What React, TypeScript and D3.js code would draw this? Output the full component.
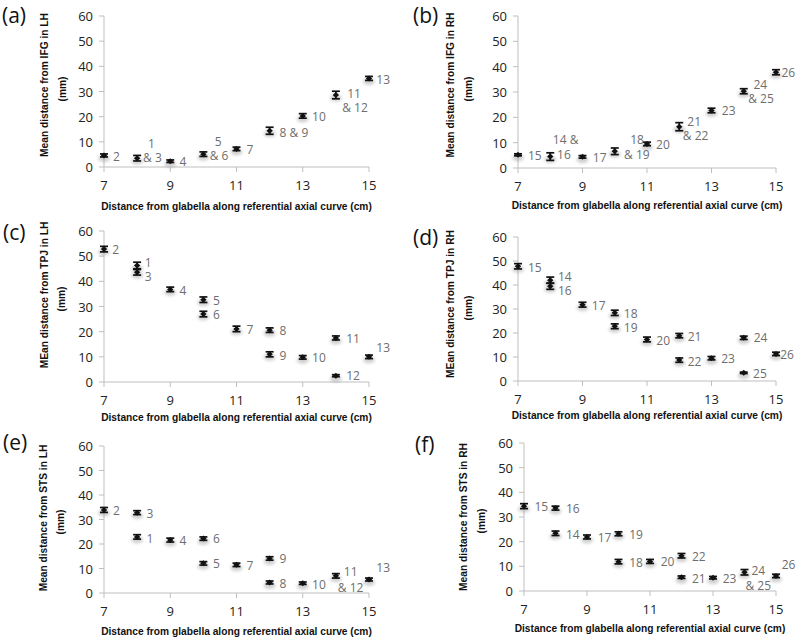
import * as d3 from 'd3';

// axis ticks shared by all panels
const xTicks = [7, 9, 11, 13, 15];
const yTicks = [0, 10, 20, 30, 40, 50, 60];

// (a) IFG, left hemisphere
const ifgLhX = [7, 8, 9, 10, 11, 12, 13, 14, 15];
const ifgLhY = [4.6, 3.5, 2.3, 5.1, 7.2, 14.4, 20.3, 28.6, 35.2];
const ifgLhErr = [0.6, 1.1, 0.5, 0.9, 0.7, 1.4, 0.9, 1.5, 0.8];
const ifgLhLabels: [string, number, number][] = [
  ['2', 7.27, 4.2], ['1', 8.33, 9.5], ['& 3', 8.18, 3.8], ['4', 9.28, 2.2],
  ['5', 10.34, 10.2], ['& 6', 10.19, 4.5], ['7', 11.3, 6.9], ['8 & 9', 12.3, 13.7],
  ['10', 13.28, 20], ['11', 14.34, 29.3], ['& 12', 14.19, 23.6], ['13', 15.22, 34.9],
];

// (b) IFG, right hemisphere
const ifgRhX = [7, 8, 9, 10, 11, 12, 13, 14, 15];
const ifgRhY = [5.2, 4.5, 4.4, 6.6, 9.5, 16.3, 22.7, 30.3, 37.8];
const ifgRhErr = [0.4, 1.5, 0.5, 1.3, 0.7, 1.6, 0.9, 1.0, 1.0];
const ifgRhLabels: [string, number, number][] = [
  ['15', 7.31, 5.0], ['14 &', 8.08, 11.2], ['16', 8.21, 5.3], ['17', 9.32, 4.1],
  ['18', 10.48, 11.2], ['& 19', 10.29, 5.4], ['20', 11.28, 9.4], ['21', 12.25, 18.2],
  ['& 22', 12.11, 12.7], ['23', 13.32, 22.6], ['24', 14.3, 33.1], ['& 25', 14.14, 27.4],
  ['26', 15.17, 37.6],
];

// (c) TPJ, left hemisphere
const tpjLhX = [7, 8, 8, 9, 10, 10, 11, 12, 12, 13, 14, 14, 15];
const tpjLhY = [52.8, 46.3, 43.6, 36.8, 32.7, 27.0, 21.1, 20.6, 11.0, 9.8, 17.5, 2.5, 10.0];
const tpjLhErr = [1.1, 1.3, 1.1, 0.9, 1.1, 1.1, 1.1, 0.9, 1.0, 0.7, 0.8, 0.4, 0.7];
const tpjLhLabels: [string, number, number][] = [
  ['2', 7.25, 52.6], ['1', 8.23, 47.3], ['3', 8.23, 42], ['4', 9.28, 36.4],
  ['5', 10.29, 32.5], ['6', 10.29, 26.9], ['7', 11.3, 20.9], ['8', 12.3, 20.5],
  ['9', 12.3, 10.6], ['10', 13.28, 9.7], ['11', 14.31, 17.2], ['12', 14.31, 2.4],
  ['13', 15.22, 13.9],
];

// (d) TPJ, right hemisphere
const tpjRhX = [7, 8, 8, 9, 10, 10, 11, 12, 12, 13, 14, 14, 15];
const tpjRhY = [47.8, 42.0, 39.5, 31.8, 28.4, 22.8, 17.3, 18.9, 8.7, 9.5, 18.0, 3.4, 11.3];
const tpjRhErr = [1.1, 1.3, 1.3, 1.0, 1.1, 1.0, 1.0, 0.9, 0.9, 0.7, 0.7, 0.3, 0.7];
const tpjRhLabels: [string, number, number][] = [
  ['15', 7.31, 47.1], ['14', 8.24, 43.6], ['16', 8.24, 37.8], ['17', 9.29, 31.3],
  ['18', 10.28, 28], ['19', 10.28, 22.2], ['20', 11.29, 17], ['21', 12.26, 18.7],
  ['22', 12.26, 8.3], ['23', 13.3, 9.3], ['24', 14.31, 18], ['25', 14.29, 3.2],
  ['26', 15.13, 11.1],
];

// (e) STS, left hemisphere
const stsLhX = [7, 8, 8, 9, 10, 10, 11, 12, 12, 13, 14, 15];
const stsLhY = [33.9, 32.8, 22.9, 21.6, 22.2, 12.1, 11.5, 14.1, 4.3, 4.0, 7.0, 5.5];
const stsLhErr = [1.0, 0.8, 0.9, 0.8, 0.7, 0.7, 0.7, 0.7, 0.6, 0.5, 0.9, 0.6];
const stsLhLabels: [string, number, number][] = [
  ['2', 7.27, 33.7], ['3', 8.28, 32.4], ['1', 8.28, 22.4], ['4', 9.28, 21.5],
  ['6', 10.29, 22.2], ['5', 10.29, 12], ['7', 11.3, 11.3], ['9', 12.3, 14],
  ['8', 12.3, 3.8], ['10', 13.28, 3.5], ['11', 14.24, 8.6], ['& 12', 14.06, 2.4],
  ['13', 15.22, 10.6],
];

// (f) STS, right hemisphere
const stsRhX = [7, 8, 8, 9, 10, 10, 11, 12, 12, 13, 14, 15];
const stsRhY = [34.4, 33.6, 23.4, 21.9, 23.2, 11.9, 12.0, 14.3, 5.6, 5.4, 7.6, 6.1];
const stsRhErr = [1.0, 0.8, 0.9, 0.8, 0.8, 0.9, 0.8, 0.9, 0.5, 0.5, 1.1, 0.7];
const stsRhLabels: [string, number, number][] = [
  ['15', 7.33, 34.3], ['16', 8.33, 33.3], ['14', 8.33, 23], ['17', 9.34, 21.7],
  ['19', 10.34, 22.8], ['18', 10.34, 11.7], ['20', 11.34, 11.9], ['22', 12.33, 14],
  ['21', 12.33, 4.9], ['23', 13.31, 4.9], ['24', 14.22, 8.3], ['& 25', 14.03, 2.4],
  ['26', 15.18, 10.6],
];

const xTitle = 'Distance from glabella along referential axial curve (cm)';
const FONT = '"Open Sans", "Liberation Sans", sans-serif';
const TITLE_FONT = '"Liberation Sans", Arial, sans-serif';

interface PanelProps {
  tag: string; tagX: number; tagY: number;
  x0: number; x1: number; yTop: number; yBot: number;
  yTitle: string; yTitleX: number; mmX: number; yTitleCy: number;
  xTitleY: number;
  xs: number[]; ys: number[]; errs: number[];
  labels: [string, number, number][];
}

function Panel(p: PanelProps) {
  const sx = d3.scaleLinear().domain([7, 15]).range([p.x0, p.x1]);
  const sy = d3.scaleLinear().domain([0, 60]).range([p.yBot, p.yTop]);
  const axis = '#bfbfbf';
  return (
    <g>
      <text x={p.tagX} y={p.tagY} fontSize={21} fill="#111" fontFamily={FONT}>{p.tag}</text>
      {/* axes */}
      <line x1={p.x0} x2={p.x0} y1={p.yTop} y2={p.yBot} stroke={axis} />
      <line x1={p.x0} x2={p.x1} y1={p.yBot} y2={p.yBot} stroke={axis} />
      {yTicks.map(t => (
        <g key={'y' + t}>
          <line x1={p.x0 - 5} x2={p.x0} y1={sy(t)} y2={sy(t)} stroke={axis} />
          <text x={p.x0 - 11} y={sy(t)} textAnchor="end" dominantBaseline="central"
            fontSize={13} fill="#222" fontFamily={FONT}>{t}</text>
        </g>
      ))}
      {xTicks.map(t => (
        <g key={'x' + t}>
          <line x1={sx(t)} x2={sx(t)} y1={p.yBot} y2={p.yBot + 5} stroke={axis} />
          <text x={sx(t)} y={p.yBot + 18} textAnchor="middle" dominantBaseline="central"
            fontSize={13} fill="#222" fontFamily={FONT}>{t}</text>
        </g>
      ))}
      {/* titles */}
      <text x={(p.x0 + p.x1) / 2} y={p.xTitleY} textAnchor="middle" dominantBaseline="central"
        fontSize={10.2} fontWeight="bold" fill="#111" fontFamily={TITLE_FONT}>{xTitle}</text>
      <text transform={`translate(${p.yTitleX},${p.yTitleCy}) rotate(-90)`} textAnchor="middle"
        dominantBaseline="central" fontSize={10.2} fontWeight="bold" fill="#111" fontFamily={TITLE_FONT}>{p.yTitle}</text>
      <text transform={`translate(${p.mmX},${p.yTitleCy + 4}) rotate(-90)`} textAnchor="middle"
        dominantBaseline="central" fontSize={10.2} fontWeight="bold" fill="#111" fontFamily={TITLE_FONT}>(mm)</text>
      {/* points with error bars */}
      {p.xs.map((x, i) => {
        const cx = sx(x);
        const cy = sy(p.ys[i]);
        const yh = sy(p.ys[i] + p.errs[i]);
        const yl = sy(p.ys[i] - p.errs[i]);
        return (
          <g key={'p' + i}>
            <ellipse cx={cx} cy={cy + 3} rx={6} ry={3.5} fill="#9a9a9a" opacity={0.45} filter="url(#soft)" />
            <line x1={cx} x2={cx} y1={yh} y2={yl} stroke="#111" strokeWidth={1.7} />
            <line x1={cx - 4} x2={cx + 4} y1={yh} y2={yh} stroke="#111" strokeWidth={1.7} />
            <line x1={cx - 4} x2={cx + 4} y1={yl} y2={yl} stroke="#111" strokeWidth={1.7} />
            <path d={`M${cx},${cy - 3}L${cx + 3.2},${cy}L${cx},${cy + 3}L${cx - 3.2},${cy}Z`} fill="#111" />
          </g>
        );
      })}
      {p.labels.map(([t, lx, ly], i) => (
        <text key={'l' + i} x={sx(lx)} y={sy(ly)} dominantBaseline="central"
          fontSize={12} fill="#6e6e6e" fontFamily={FONT}>{t}</text>
      ))}
    </g>
  );
}

const panels: PanelProps[] = [
  { tag: '(a)', tagX: 2, tagY: 23, x0: 104, x1: 369, yTop: 16, yBot: 167,
    yTitle: 'Mean distance from IFG in LH', yTitleX: 44, mmX: 62, yTitleCy: 85,
    xTitleY: 206, xs: ifgLhX, ys: ifgLhY, errs: ifgLhErr, labels: ifgLhLabels },
  { tag: '(b)', tagX: 413, tagY: 23, x0: 518, x1: 776, yTop: 16, yBot: 168,
    yTitle: 'Mean distance from IFG in RH', yTitleX: 450, mmX: 468, yTitleCy: 85,
    xTitleY: 205, xs: ifgRhX, ys: ifgRhY, errs: ifgRhErr, labels: ifgRhLabels },
  { tag: '(c)', tagX: 3, tagY: 240, x0: 104, x1: 369, yTop: 231, yBot: 382,
    yTitle: 'MEan distance from TPJ in LH', yTitleX: 44, mmX: 61, yTitleCy: 295,
    xTitleY: 417, xs: tpjLhX, ys: tpjLhY, errs: tpjLhErr, labels: tpjLhLabels },
  { tag: '(d)', tagX: 413, tagY: 245, x0: 518, x1: 776, yTop: 237, yBot: 381,
    yTitle: 'MEan distance from TPJ in RH', yTitleX: 450, mmX: 468, yTitleCy: 304,
    xTitleY: 415, xs: tpjRhX, ys: tpjRhY, errs: tpjRhErr, labels: tpjRhLabels },
  { tag: '(e)', tagX: 3, tagY: 450, x0: 104, x1: 369, yTop: 446, yBot: 593,
    yTitle: 'Mean distance from STS in LH', yTitleX: 43, mmX: 60, yTitleCy: 518,
    xTitleY: 631, xs: stsLhX, ys: stsLhY, errs: stsLhErr, labels: stsLhLabels },
  { tag: '(f)', tagX: 415, tagY: 452, x0: 524, x1: 776, yTop: 443, yBot: 591,
    yTitle: 'Mean distance from STS in RH', yTitleX: 463, mmX: 481, yTitleCy: 517,
    xTitleY: 628, xs: stsRhX, ys: stsRhY, errs: stsRhErr, labels: stsRhLabels },
];

export default function App() {
  return (
    <svg width={800} height={643} style={{ position: 'absolute', left: 0, top: 0, background: '#fff' }}>
      <defs>
        <filter id="soft" x="-50%" y="-50%" width="200%" height="200%">
          <feGaussianBlur stdDeviation="1.5" />
        </filter>
      </defs>
      {panels.map(p => <Panel key={p.tag} {...p} />)}
    </svg>
  );
}
